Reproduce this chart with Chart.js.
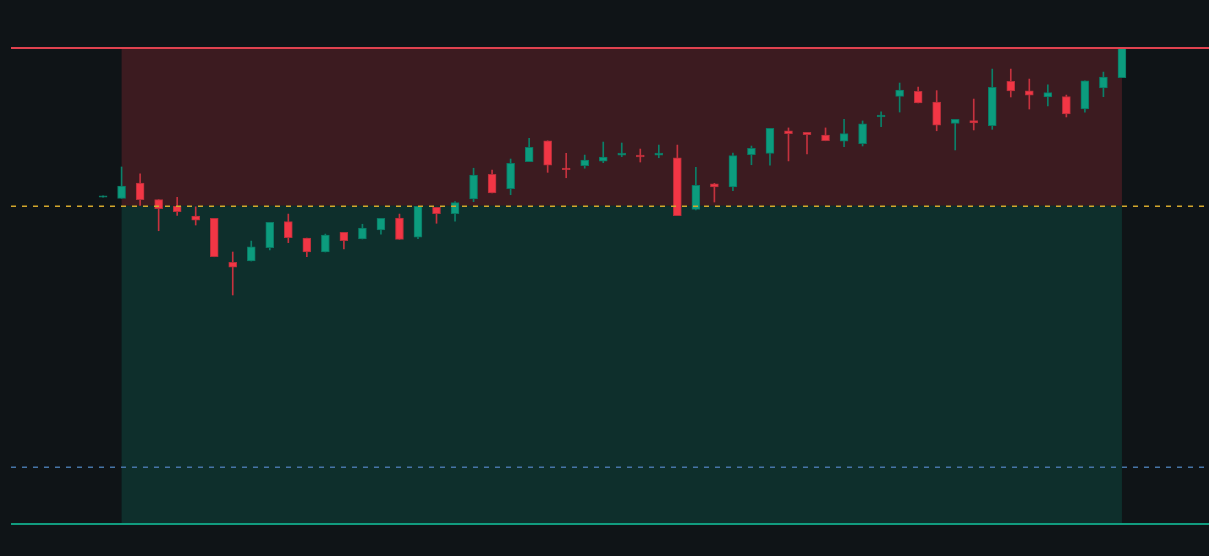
<!DOCTYPE html>
<html>
<head>
<meta charset="utf-8">
<script src="https://cdn.jsdelivr.net/npm/chart.js@4.4.1/dist/chart.umd.min.js"></script>
<style>
  html, body { margin: 0; padding: 0; background: #0f1417; overflow: hidden; }
  #wrap { width: 1209px; height: 556px; position: relative; }
</style>
</head>
<body>
<div id="wrap"><canvas id="chart"></canvas></div>
<script>
// candle OHLC, one entry per bar
const opens  = [100.53, 100.46, 101.43, 100.38, 99.98, 99.35, 99.20, 96.43, 96.51, 97.35, 98.99, 97.96, 97.08, 98.32, 97.90, 98.47, 99.22, 98.01, 99.90, 99.49, 100.42, 101.98, 101.07, 102.77, 104.09, 102.37, 102.52, 102.80, 103.19, 103.19, 103.19, 103.02, 99.77, 101.37, 101.18, 103.21, 103.30, 104.72, 104.62, 104.45, 104.06, 103.91, 105.59, 106.89, 107.21, 106.53, 105.19, 105.36, 105.04, 107.84, 107.23, 106.85, 106.87, 106.09, 107.42, 108.07];
const highs  = [100.62, 102.44, 102.00, 100.38, 100.53, 99.93, 99.20, 97.08, 97.77, 98.95, 99.47, 97.96, 98.21, 98.32, 98.83, 99.20, 99.47, 99.96, 99.90, 100.25, 102.36, 102.25, 102.94, 104.25, 104.09, 103.30, 103.19, 104.01, 103.95, 103.57, 103.82, 103.82, 102.42, 101.41, 103.32, 103.76, 104.88, 104.90, 104.62, 104.90, 105.44, 105.34, 105.92, 107.73, 107.48, 107.25, 105.44, 106.72, 108.61, 108.61, 107.98, 107.61, 106.97, 107.86, 108.42, 110.00];
const lows   = [100.53, 100.46, 100.02, 98.42, 99.39, 98.78, 96.78, 94.37, 96.51, 97.21, 97.67, 96.78, 97.08, 97.27, 97.90, 98.20, 97.88, 97.92, 98.89, 99.03, 100.25, 100.80, 100.69, 102.77, 102.10, 101.76, 102.36, 102.71, 103.09, 102.75, 103.02, 99.37, 99.73, 100.23, 100.94, 102.58, 102.56, 102.82, 103.26, 104.09, 103.72, 103.76, 104.98, 105.90, 106.47, 104.72, 103.51, 104.77, 104.81, 106.85, 106.09, 106.28, 105.59, 105.90, 106.87, 108.07];
const closes = [100.62, 101.24, 100.38, 99.81, 99.62, 99.08, 96.78, 96.13, 97.41, 98.95, 97.98, 97.08, 98.15, 97.79, 98.59, 99.20, 97.88, 99.96, 99.49, 100.19, 101.93, 100.80, 102.67, 103.68, 102.56, 102.27, 102.88, 103.07, 103.32, 103.07, 103.32, 99.37, 101.28, 101.18, 103.15, 103.62, 104.88, 104.54, 104.47, 104.09, 104.54, 105.15, 105.71, 107.29, 106.47, 105.08, 105.44, 105.21, 107.46, 107.23, 106.96, 107.12, 105.78, 107.86, 108.11, 109.95];

// position tool levels
const entryIndex = 1;
const exitIndex = 55;
const entryPrice = 100;
const stopPrice = 110;
const targetPrice = 80;
const markPrice = 83.55;

const UP = '#0c9c7e', UP_EDGE = '#0a7863', UP_WICK = '#0b8069';
const DOWN = '#f23645', DOWN_EDGE = '#b52f3a', DOWN_WICK = '#c5323e';

const isUp = opens.map((o, i) => closes[i] >= o);
const wicks = highs.map((h, i) => ({ x: i, y: [lows[i], h] }));
const bodies = opens.map((o, i) => ({ x: i, y: [o, closes[i]] }));

const tradeZones = {
    id: 'tradeZones',
    beforeDatasetsDraw(chart) {
        const { ctx, scales: { x, y } } = chart;
        const x0 = x.getPixelForValue(entryIndex);
        const x1 = x.getPixelForValue(exitIndex);
        const yE = y.getPixelForValue(entryPrice);
        const yS = y.getPixelForValue(stopPrice);
        const yT = y.getPixelForValue(targetPrice);
        ctx.save();
        ctx.fillStyle = 'rgba(242, 54, 69, 0.2)';
        ctx.fillRect(x0, yS, x1 - x0, yE - yS);
        ctx.fillStyle = 'rgba(8, 153, 129, 0.2)';
        ctx.fillRect(x0, yE, x1 - x0, yT - yE);
        ctx.restore();
    },
    afterDatasetsDraw(chart) {
        const { ctx, chartArea, scales: { y } } = chart;
        const hline = (price, color, width, dash, shift) => {
            const py = y.getPixelForValue(price) + shift;
            ctx.beginPath();
            ctx.strokeStyle = color;
            ctx.lineWidth = width;
            ctx.setLineDash(dash);
            ctx.moveTo(chartArea.left, py);
            ctx.lineTo(chartArea.right, py);
            ctx.stroke();
        };
        ctx.save();
        hline(entryPrice, '#d4a72c', 1.5, [5, 6], 0.5);
        hline(markPrice, '#4675a8', 1.5, [5, 6], 0.5);
        hline(stopPrice, '#e0424f', 2, [], 1);
        hline(targetPrice, '#119c7f', 2, [], 1);
        ctx.restore();
    }
};

new Chart(document.getElementById('chart'), {
    type: 'bar',
    data: {
        datasets: [
            {
                label: 'wick',
                data: wicks,
                backgroundColor: isUp.map(u => u ? UP_WICK : DOWN_WICK),
                barThickness: 1,
                grouped: false,
                order: 2
            },
            {
                label: 'body',
                data: bodies,
                backgroundColor: isUp.map(u => u ? UP : DOWN),
                borderColor: isUp.map(u => u ? UP_EDGE : DOWN_EDGE),
                borderWidth: 1,
                borderSkipped: false,
                barThickness: 8,
                grouped: false,
                order: 1
            }
        ]
    },
    options: {
        responsive: true,
        maintainAspectRatio: false,
        animation: false,
        layout: { padding: { left: 11, top: 47, bottom: 33, right: 0 } },
        scales: {
            x: { type: 'linear', min: -4.97, max: 59.7, offset: false, display: false },
            y: { min: targetPrice, max: stopPrice, display: false }
        },
        plugins: { legend: { display: false }, tooltip: { enabled: false } }
    },
    plugins: [tradeZones]
});
</script>
</body>
</html>
